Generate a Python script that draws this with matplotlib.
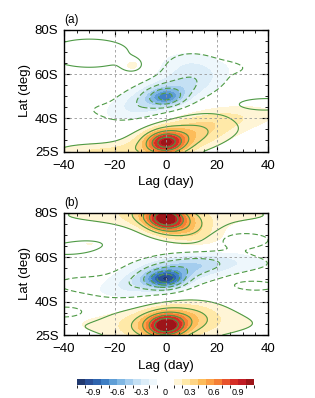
import numpy as np
import matplotlib
matplotlib.use("Agg")
import matplotlib.pyplot as plt
from matplotlib.colors import ListedColormap, BoundaryNorm

plt.rcParams['font.family'] = ['Liberation Sans', 'DejaVu Sans']

# grid: lag (day) and latitude (deg S)
lag = np.linspace(-40, 40, 161)
lat = np.linspace(25, 80, 111)

# blob tables: amplitude, lag centre, lat centre, lag width, lat width, tilt (deg lat per day)
# panel (a) shading
a_amp  = [0.65, 0.40, 0.18, 0.18, -0.38, -0.40, -0.15, 0.14]
a_lag  = [0,    3,    22,   -30,  0,     0,     8,     -13]
a_lat  = [29,   30,   40,   25,   49.5,  51,    65,    64]
a_slag = [7,    20,   25,   16,   6.5,   20,    13,    4]
a_slat = [5,    7,    6,    4,    4,     8,     7,     3]
a_tilt = [0.0,  0.2,  0.1,  0.0,  0.0,   0.35,  0.0,   0.0]
# panel (a) extra components seen only in the contour lines
al_amp  = [0.15, -0.10, 0.14, -0.06, -0.14, 0.06]
al_lag  = [-30,  24,    40,   -25,   26,    38]
al_lat  = [69.5, 63,    47,   44,    40,    68]
al_slag = [25,   9,     12,   10,    14,    8]
al_slat = [10,   2.5,   2.5,  3,     5,     6]
al_tilt = [0.0,  0.0,   0.0,  0.0,   0.0,   0.0]

# panel (b) shading
b_amp  = [0.65, 0.40, 0.15, -0.62, -0.42, -0.14, 0.65, 0.40, 0.14, 0.10]
b_lag  = [0,    3,    0,    0,     0,     20,    0,    2,    0,    -30]
b_lat  = [77.5, 75,   79,   50,    52,    57,    29,   31,   30,   66]
b_slag = [7,    16,   60,   7,     22,    30,    7,    16,   55,   15]
b_slat = [5,    7.5,  6,    4,     7,     5,     5,    7.5,  8,    4]
b_tilt = [0.0,  -0.3, 0.0,  0.0,   0.25,  0.0,   0.0,  0.15, 0.0,  0.0]
# panel (b) extra components seen only in the contour lines
bl_amp  = [-0.12, -0.25, 0.12, -0.2, -0.15]
bl_lag  = [-35,   -40,   -40,  28,   35]
bl_lat  = [48,    35,    63,   68,   47]
bl_slag = [15,    10,    12,   14,   12]
bl_slat = [5,     3,     3,    4,    3]
bl_tilt = [0.0,   0.0,   0.0,  0.0,  0.0]

fill_levels = np.round(np.arange(-1.1, 1.11, 0.1), 2)
line_levels = [-0.9, -0.7, -0.5, -0.3, -0.1, 0.1, 0.3, 0.5, 0.7, 0.9]
cbar_ticks = [-0.9, -0.6, -0.3, 0, 0.3, 0.6, 0.9]
colors = ['#21396f', '#2a4f96', '#2e64ae', '#3f7fc4', '#5f9ed6', '#80b7e3',
          '#a4cdee', '#c4e0f4', '#dcedf8', '#eef7fc', '#ffffff',
          '#ffffff', '#fff5d6', '#ffe9a8', '#fed585', '#fdbc5a', '#fca046',
          '#f57f35', '#e8532c', '#d52e26', '#c01c24', '#9d1519']


def field(amp, x0, y0, sx, sy, k):
    X, Y = np.meshgrid(lag, lat)
    z = np.zeros_like(X)
    for A, xc, yc, wx, wy, t in zip(amp, x0, y0, sx, sy, k):
        z += A * np.exp(-((X - xc) / wx) ** 2 - ((Y - yc - t * (X - xc)) / wy) ** 2)
    return z


za = field(a_amp, a_lag, a_lat, a_slag, a_slat, a_tilt)
za_l = za + field(al_amp, al_lag, al_lat, al_slag, al_slat, al_tilt)
zb = field(b_amp, b_lag, b_lat, b_slag, b_slat, b_tilt)
zb_l = zb + field(bl_amp, bl_lag, bl_lat, bl_slag, bl_slat, bl_tilt)

cmap = ListedColormap(colors)
norm = BoundaryNorm(fill_levels, cmap.N)

fig = plt.figure(figsize=(3.15, 3.98), dpi=100)
W, H = 315, 398
ax1 = fig.add_axes([64 / W, 1 - 151.5 / H, 204 / W, 121.5 / H])
ax2 = fig.add_axes([64 / W, 1 - 335 / H, 204 / W, 122.3 / H])

for ax, z, zl, lab in [(ax1, za, za_l, '(a)'), (ax2, zb, zb_l, '(b)')]:
    cf = ax.contourf(lag, lat, np.clip(z, -1.09, 1.09), levels=fill_levels, cmap=cmap, norm=norm)
    styles = [(0, (5, 2.5)) if l < 0 else 'solid' for l in line_levels]
    ax.contour(lag, lat, zl, levels=line_levels, colors='#4e9a45', linewidths=0.8,
               linestyles=styles)
    ax.set_xlim(-40, 40)
    ax.set_ylim(25, 80)
    ax.set_xticks([-40, -20, 0, 20, 40])
    ax.set_yticks([25, 40, 60, 80])
    ax.set_yticklabels(['25S', '40S', '60S', '80S'])
    ax.set_xticks(np.arange(-40, 41, 5), minor=True)
    ax.set_yticks(np.arange(25, 81, 5), minor=True)
    ax.tick_params(which='both', direction='in', top=True, right=True, labelsize=9.5)
    ax.tick_params(axis='x', pad=6)
    ax.tick_params(axis='y', pad=4)
    ax.tick_params(which='major', length=4, width=0.8)
    ax.tick_params(which='minor', length=2, width=0.6)
    for x in [-20, 0, 20]:
        ax.axvline(x, color='#999999', ls=(0, (3, 3)), lw=0.6)
    for y in [40, 60]:
        ax.axhline(y, color='#999999', ls=(0, (3, 3)), lw=0.6)
    for s in ax.spines.values():
        s.set_linewidth(1.0)
    ax.set_xlabel('Lag (day)', fontsize=9.5, labelpad=3)
    ax.set_ylabel('Lat (deg)', fontsize=9.5, labelpad=3)
    ax.text(0.0, 1.03, lab, transform=ax.transAxes, fontsize=8.5, ha='left', va='bottom')

cax = fig.add_axes([77 / W, 1 - 385 / H, 177 / W, 6 / H])
cb = fig.colorbar(cf, cax=cax, orientation='horizontal', ticks=cbar_ticks)
cb.ax.set_xticklabels(['-0.9', '-0.6', '-0.3', '0', '0.3', '0.6', '0.9'])
cb.ax.tick_params(labelsize=6.5, length=0, pad=2)
cb.outline.set_linewidth(0)

fig.savefig('out.png', dpi=100)
